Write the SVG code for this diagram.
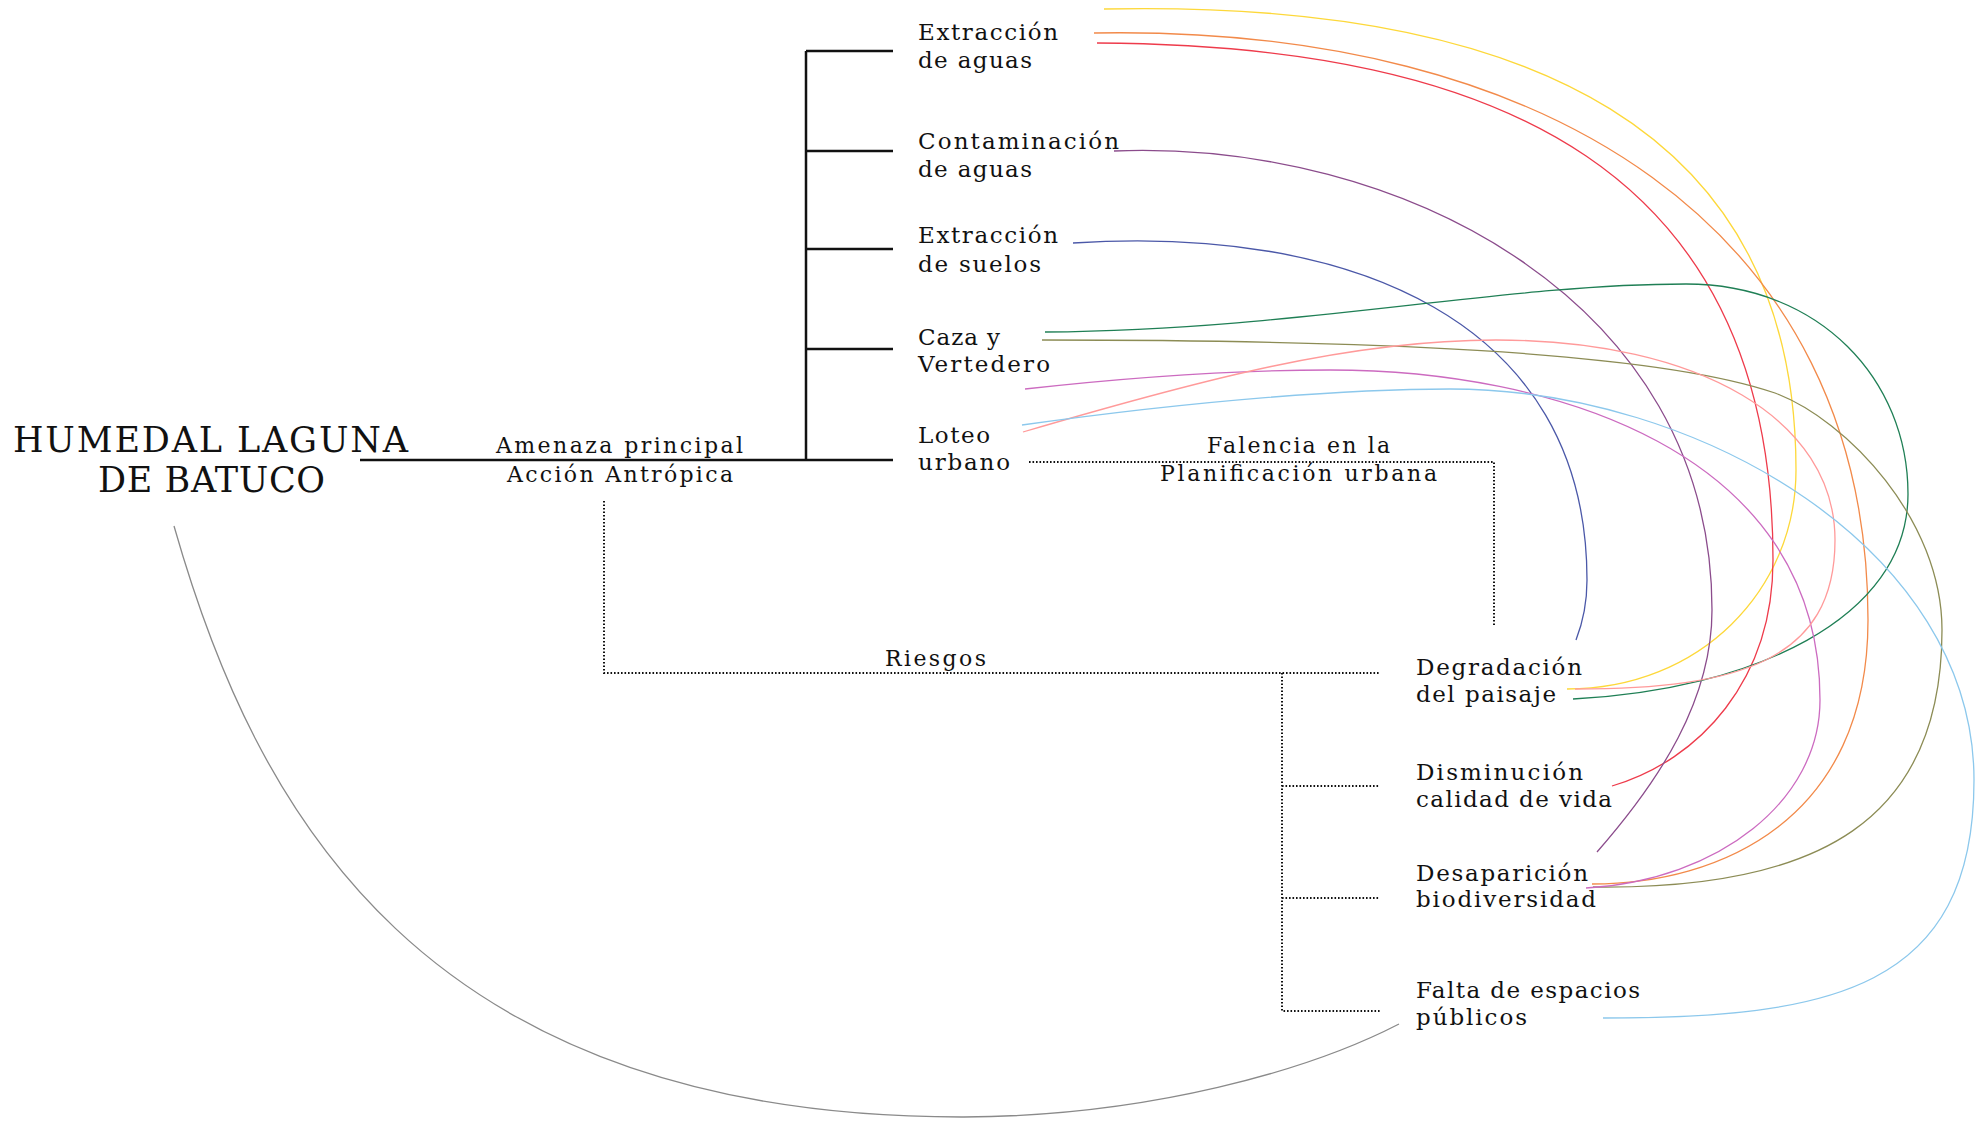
<svg xmlns="http://www.w3.org/2000/svg" width="1988" height="1121" viewBox="0 0 1988 1121">
<style>
text{font-family:"DejaVu Serif","Liberation Serif",serif;fill:#111;font-size:23px;}
.title{font-size:35px;}
.small{font-size:22px;}
.solid{stroke:#111;stroke-width:2.5;fill:none;}
.dot{stroke:#111;stroke-width:2;stroke-dasharray:1.6 1.9;fill:none;}
.c{fill:none;stroke-width:1.3;}
</style>
<rect width="1988" height="1121" fill="#fff"/>
<g id="connectors">
<path class="solid" d="M360,460 H893 M806,51 V460 M806,51 H893 M806,151 H893 M806,249 H893 M806,349 H893"/>
<path class="dot" d="M1029,462 H1494 V625"/>
<path class="dot" d="M604,501 V673 H1380 M1282,673 V1011 H1380 M1282,786 H1380 M1282,898 H1380"/>
<path class="c" stroke="#8a8a8a" d="M174,526 C255,810 420,1118 964,1117 C1150,1116 1310,1070 1399,1024"/>
<path class="c" stroke="#fdd83a" d="M1104,9 C1530,0 1796,130 1796,470 C1796,590 1700,689 1567,689"/>
<path class="c" stroke="#f28a4a" d="M1094,33 C1550,25 1868,230 1868,620 C1868,820 1720,884 1592,884"/>
<path class="c" stroke="#ee3b4b" d="M1097,43 C1500,45 1773,170 1773,560 C1773,680 1700,760 1612,786"/>
<path class="c" stroke="#8b4c8c" d="M1114,151 C1400,140 1712,300 1712,610 C1712,700 1660,780 1597,852"/>
<path class="c" stroke="#4b58a8" d="M1073,243 C1350,225 1587,320 1587,580 C1587,605 1583,622 1576,640"/>
<path class="c" stroke="#1f7f55" d="M1045,332 C1300,330 1500,284 1686,284 C1820,284 1908,380 1908,494 C1908,620 1750,690 1573,699"/>
<path class="c" stroke="#8c8c55" d="M1042,340 C1350,340 1650,350 1775,393 C1847,420 1942,520 1942,630 C1942,820 1820,890 1593,887"/>
<path class="c" stroke="#cc6bc0" d="M1025,389 C1150,375 1250,370 1330,370 C1550,370 1820,450 1820,700 C1820,800 1720,880 1586,888"/>
<path class="c" stroke="#ff9a9a" d="M1023,432 C1200,380 1350,340 1496,340 C1700,340 1835,420 1835,540 C1835,660 1740,689 1575,689"/>
<path class="c" stroke="#8cc8ec" d="M1022,425 C1200,400 1350,389 1450,389 C1700,389 1974,550 1974,780 C1974,990 1830,1018 1603,1018"/>
</g>
<g id="n-humedal">
<text class="title" x="13" y="452" textLength="395" lengthAdjust="spacing">HUMEDAL LAGUNA</text>
<text class="title" x="98" y="492" textLength="227" lengthAdjust="spacing">DE BATUCO</text>
</g>
<g id="n-amenaza">
<text class="small" x="496" y="453" textLength="247" lengthAdjust="spacing">Amenaza principal</text>
<text class="small" x="507" y="482" textLength="226" lengthAdjust="spacing">Acción Antrópica</text>
</g>
<g id="n-extraccion-aguas">
<text x="918" y="40" textLength="140" lengthAdjust="spacing">Extracción</text>
<text x="918" y="68" textLength="114" lengthAdjust="spacing">de aguas</text>
</g>
<g id="n-contaminacion">
<text x="918" y="149" textLength="201" lengthAdjust="spacing">Contaminación</text>
<text x="918" y="177" textLength="114" lengthAdjust="spacing">de aguas</text>
</g>
<g id="n-extraccion-suelos">
<text x="918" y="243" textLength="140" lengthAdjust="spacing">Extracción</text>
<text x="918" y="272" textLength="123" lengthAdjust="spacing">de suelos</text>
</g>
<g id="n-caza">
<text x="918" y="345" textLength="82" lengthAdjust="spacing">Caza y</text>
<text x="918" y="372" textLength="132" lengthAdjust="spacing">Vertedero</text>
</g>
<g id="n-loteo">
<text x="918" y="443" textLength="72" lengthAdjust="spacing">Loteo</text>
<text x="918" y="470" textLength="92" lengthAdjust="spacing">urbano</text>
</g>
<g id="n-falencia">
<text class="small" x="1207" y="453" textLength="183" lengthAdjust="spacing">Falencia en la</text>
<text class="small" x="1160" y="481" textLength="277" lengthAdjust="spacing">Planificación urbana</text>
</g>
<g id="n-riesgos">
<text class="small" x="885" y="666" textLength="101" lengthAdjust="spacing">Riesgos</text>
</g>
<g id="n-degradacion">
<text x="1416" y="675" textLength="166" lengthAdjust="spacing">Degradación</text>
<text x="1416" y="702" textLength="140" lengthAdjust="spacing">del paisaje</text>
</g>
<g id="n-disminucion">
<text x="1416" y="780" textLength="167" lengthAdjust="spacing">Disminución</text>
<text x="1416" y="807" textLength="196" lengthAdjust="spacing">calidad de vida</text>
</g>
<g id="n-desaparicion">
<text x="1416" y="881" textLength="172" lengthAdjust="spacing">Desaparición</text>
<text x="1416" y="907" textLength="180" lengthAdjust="spacing">biodiversidad</text>
</g>
<g id="n-falta">
<text x="1416" y="998" textLength="224" lengthAdjust="spacing">Falta de espacios</text>
<text x="1416" y="1025" textLength="111" lengthAdjust="spacing">públicos</text>
</g>
</svg>
